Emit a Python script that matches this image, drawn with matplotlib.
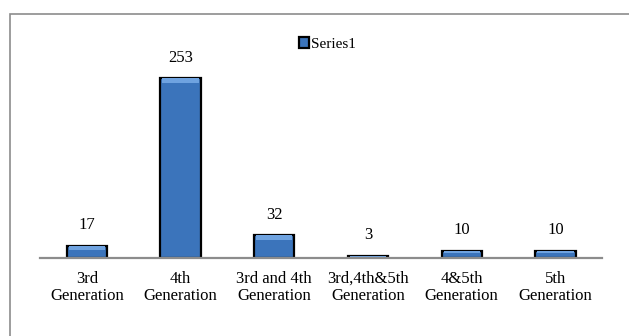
import matplotlib.pyplot as plt
from matplotlib.patches import Rectangle

# Counts by generation
categories = ["3rd\nGeneration", "4th\nGeneration", "3rd and 4th\nGeneration",
              "3rd,4th&5th\nGeneration", "4&5th\nGeneration", "5th\nGeneration"]
values = [17, 253, 32, 3, 10, 10]

plt.rcParams['font.family'] = ['Liberation Serif', 'DejaVu Serif']

fig = plt.figure(figsize=(6.29, 3.36), dpi=100)
ax = fig.add_axes([0.0636, 0.232, 0.894, 0.634])

# outer chart frame (runs off the right and bottom edges)
fig.patches.append(Rectangle((10 / 629, -0.05), 1.0, 1 - 14 / 336 + 0.05,
                             transform=fig.transFigure, fill=False,
                             edgecolor='#8c8c8c', linewidth=1.2))

x = range(len(categories))
bars = ax.bar(x, values, width=0.43, color='#3b74bb', edgecolor='black',
              linewidth=1.6, label='Series1', zorder=3)

# lighter bevel strip along the top of each bar
for b in bars:
    h = b.get_height()
    strip = min(h * 0.35, 6)
    ax.bar(b.get_x() + b.get_width() / 2, strip, bottom=h - strip,
           width=b.get_width() * 0.9, color='#6fa3e0', linewidth=0, zorder=4)

for i, v in enumerate(values):
    ax.annotate(str(v), (i, v), xytext=(0, 9), textcoords='offset points',
                ha='center', va='bottom', fontsize=12)

ax.set_xlim(-0.5, 5.5)
ax.set_ylim(0, 300)
ax.set_xticks(list(x))
ax.set_xticklabels(categories, fontsize=12, linespacing=1.1)
ax.tick_params(axis='x', length=0, pad=9)
ax.set_yticks([])
for s in ['top', 'right', 'left']:
    ax.spines[s].set_visible(False)
ax.spines['bottom'].set_color('#8c8c8c')
ax.spines['bottom'].set_linewidth(1.6)
ax.spines['bottom'].set_zorder(5)

leg = fig.legend(handles=[bars], labels=['Series1'], loc='center',
                 bbox_to_anchor=(0.52, 1 - 44 / 336), frameon=False,
                 fontsize=11, handlelength=0.7, handleheight=0.7,
                 handletextpad=0.1)

fig.savefig('out.png', dpi=100)
